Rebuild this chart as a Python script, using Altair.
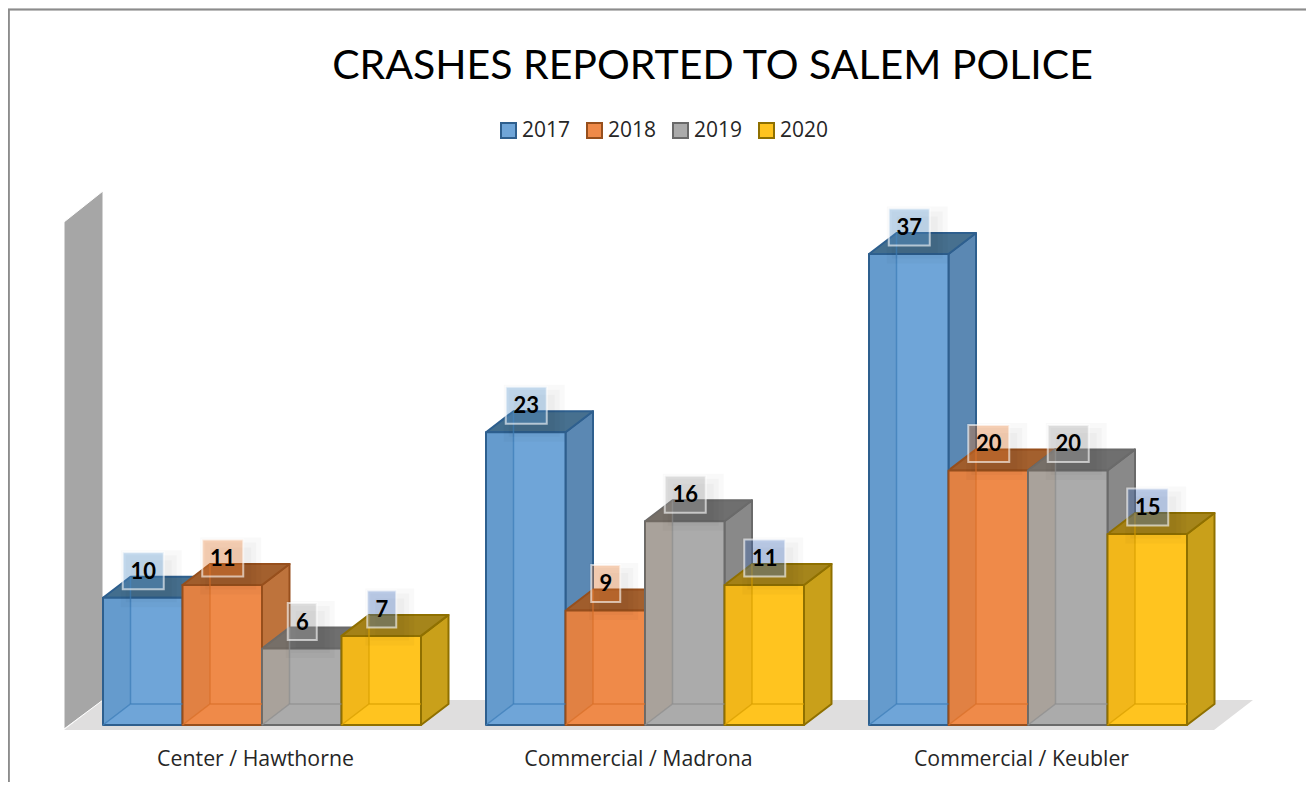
import altair as alt
import pandas as pd

CATEGORIES = ["Center / Hawthorne", "Commercial / Madrona", "Commercial / Keubler"]
YEARS = ["2017", "2018", "2019", "2020"]
VALUES_2017 = [10, 23, 37]
VALUES_2018 = [11, 9, 20]
VALUES_2019 = [6, 16, 20]
VALUES_2020 = [7, 11, 15]
SERIES = [VALUES_2017, VALUES_2018, VALUES_2019, VALUES_2020]

FRONT = ["#6FA5D8", "#EF8A49", "#ABABAB", "#FFC41F"]
EDGE = ["#2E5F8E", "#974F1C", "#6A6A6A", "#8F7000"]
SIDE = ["#5B88B3", "#BE733C", "#898989", "#C9A01A"]
TOP = ["#47708F", "#A3602E", "#6F6F6F", "#A5851B"]
BOX = ["#5B9BD5", "#ED7D31", "#A5A5A5", "#4472C4"]
BAND = ["#2E6090", "#905020", "#A0703F", "#A06800"]
INNER = ["#3F7FBA", "#D9702A", "#8F8F8F", "#D9A000"]

W, H = 1298, 774
PX_X, PX_Y = 79.5, 12.73        # pixels per bar width, pixels per crash
ORIGIN_X, ORIGIN_Y = 103, 725   # page position of the first bar's foot
DX, DY = 27.5 / PX_X, 21 / PX_Y   # depth of the boxes
GROUP_STEP = 383 / PX_X


def sx(px):
    return (px - ORIGIN_X) / PX_X


def sy(px):
    return (ORIGIN_Y - px) / PX_Y


X_DOMAIN = [sx(8), sx(8 + W)]
Y_DOMAIN = [sy(8 + H), sy(8)]
x_scale = alt.Scale(domain=X_DOMAIN, nice=False, zero=False)
y_scale = alt.Scale(domain=Y_DOMAIN, nice=False, zero=False)
X = alt.X("x:Q", scale=x_scale, axis=None)
Y = alt.Y("y:Q", scale=y_scale, axis=None, stack=None)
X2 = alt.X2("x2:Q")
Y2 = alt.Y2("y2:Q")

fronts, sides, tops, bands, inner, labels = [], [], [], [], [], []
bar_id = 0
for g in range(len(CATEGORIES)):
    for s, year in enumerate(YEARS):
        v = SERIES[s][g]
        l = g * GROUP_STEP + s
        r = l + 1
        bid = f"{bar_id:02d}"
        bar_id += 1
        fronts.append(dict(x=l, x2=r, y=0, y2=v, year=year))
        for xx, a, b in [(r, 0, v), (r + DX, DY, v + DY)]:
            sides.append(dict(face=bid, x=xx, y=a, y2=b, fill=SIDE[s], edge=EDGE[s]))
        for xx, a, b in [(l, v, v), (l + DX, v, v + DY), (r, v, v + DY), (r + DX, v + DY, v + DY)]:
            tops.append(dict(face=bid, x=xx, y=a, y2=b, fill=TOP[s], edge=EDGE[s]))
        for xx, a, b in [(l, 0, v), (l + DX, DY, v + DY)]:
            bands.append(dict(face=bid, x=xx, y=a, y2=b, fill=BAND[s]))
        path = [(l, 0), (l + DX, DY), (r, DY)]
        for i, (xx, yy) in enumerate(path):
            inner.append(dict(face=bid + "a", i=i, x=xx, y=yy, edge=INNER[s]))
        for i, (xx, yy) in enumerate([(l + DX, DY), (l + DX, v + DY)]):
            inner.append(dict(face=bid + "b", i=i, x=xx, y=yy, edge=INNER[s]))
        half_w = (20.5 if v >= 10 else 14.5) / PX_X
        half_h = 18.5 / PX_Y
        cx, cy = l + 0.5 + 0.5 / PX_X, v + 27 / PX_Y
        row = dict(x=cx - half_w, x2=cx + half_w, y=cy - half_h, y2=cy + half_h,
                   cx=cx, cy=cy - 1 / PX_Y, text=str(v), box=BOX[s])
        for n, grow in enumerate([10, 5, 0]):
            row[f"sx{n}"] = cx - half_w + (8 - grow) / PX_X
            row[f"sxx{n}"] = cx + half_w + (8 + grow) / PX_X
            row[f"sy{n}"] = cy - half_h - (8 + grow) / PX_Y
            row[f"syy{n}"] = cy + half_h - (8 - grow) / PX_Y
        labels.append(row)

df_fronts, df_sides, df_tops = pd.DataFrame(fronts), pd.DataFrame(sides), pd.DataFrame(tops)
df_bands, df_inner, df_labels = pd.DataFrame(bands), pd.DataFrame(inner), pd.DataFrame(labels)

df_floor = pd.DataFrame(dict(
    x=[sx(64), sx(103), sx(1214), sx(1253)],
    y=[sy(730), sy(730), sy(730), sy(700)],
    y2=[sy(730), sy(700), sy(700), sy(700)],
))
df_wall = pd.DataFrame(dict(
    x=[sx(64), sx(103)],
    y=[sy(729), sy(700)],
    y2=[sy(222), sy(191)],
))
df_cats = pd.DataFrame(dict(
    x=[g * GROUP_STEP + 2 - 6.5 / PX_X for g in range(3)],
    y=[sy(760)] * 3,
    text=CATEGORIES,
))

floor = alt.Chart(df_floor).mark_area(orient="vertical", color="#DFDEDE").encode(x=X, y=Y, y2=Y2)
wall = alt.Chart(df_wall).mark_area(orient="vertical", color="#A6A6A6", stroke="#FFFFFF", strokeWidth=1).encode(x=X, y=Y, y2=Y2)


def faces(df):
    return alt.Chart(df).mark_area(orient="vertical", strokeWidth=2, strokeJoin="round").encode(
        x=X, y=Y, y2=Y2, detail="face:N",
        fill=alt.Fill("fill:N", scale=None),
        stroke=alt.Stroke("edge:N", scale=None),
    )


legend = alt.Legend(
    orient="none", legendX=490, legendY=112, direction="horizontal", columns=4, title=None,
    symbolType="square", symbolSize=225, symbolStrokeWidth=2, labelFont="Open Sans",
    labelFontSize=21, labelColor="#262626", labelOffset=3, columnPadding=12, symbolOpacity=1,
)
bars = alt.Chart(df_fronts).mark_bar(strokeWidth=2, strokeJoin="round", opacity=1).encode(
    x=X, x2=X2, y=Y, y2=Y2,
    color=alt.Color("year:N", scale=alt.Scale(domain=YEARS, range=FRONT), legend=legend),
    stroke=alt.Stroke("year:N", scale=alt.Scale(domain=YEARS, range=EDGE), legend=legend),
)
band_layer = alt.Chart(df_bands).mark_area(orient="vertical", opacity=0.14).encode(
    x=X, y=Y, y2=Y2, detail="face:N", fill=alt.Fill("fill:N", scale=None))
inner_layer = alt.Chart(df_inner).mark_line(strokeWidth=1.5, opacity=0.75).encode(
    x=X, y=Y, detail="face:N", order="i:Q", stroke=alt.Stroke("edge:N", scale=None))


def shadow(n):
    return alt.Chart(df_labels).mark_rect(color="#000000", opacity=0.022).encode(
        x=alt.X(f"sx{n}:Q", scale=x_scale, axis=None), x2=alt.X2(f"sxx{n}:Q"),
        y=alt.Y(f"sy{n}:Q", scale=y_scale, axis=None), y2=alt.Y2(f"syy{n}:Q"))


boxes = alt.Chart(df_labels).mark_rect(fillOpacity=0.35, stroke="#FFFFFF", strokeOpacity=0.6, strokeWidth=2).encode(
    x=X, x2=X2, y=alt.Y("y:Q", scale=y_scale, axis=None), y2=Y2,
    fill=alt.Fill("box:N", scale=None))
texts = alt.Chart(df_labels).mark_text(font="Lato", fontWeight="bold", fontSize=22, color="#000000", baseline="middle").encode(
    x=alt.X("cx:Q", scale=x_scale, axis=None), y=alt.Y("cy:Q", scale=y_scale, axis=None), text="text:N")
cats = alt.Chart(df_cats).mark_text(font="Open Sans", fontSize=21.3, color="#262626", baseline="middle").encode(
    x=X, y=alt.Y("y:Q", scale=y_scale, axis=None), text="text:N")

border_top = alt.Chart(df_cats).mark_rule(color="#8C8C8C", strokeWidth=1.5).encode(
    x=alt.value(0), x2=alt.value(W), y=alt.value(1.5))
border_left = alt.Chart(df_cats).mark_rule(color="#8C8C8C", strokeWidth=1.5).encode(
    x=alt.value(0.75), y=alt.value(1), y2=alt.value(H))

chart = alt.layer(
    border_top, border_left, floor, wall, faces(df_sides), faces(df_tops), bars,
    band_layer, inner_layer, shadow(0), shadow(1), shadow(2), boxes, texts, cats,
).resolve_scale(color="independent", stroke="independent").properties(
    width=W, height=H, padding=0,
    autosize=alt.AutoSizeParams(type="none"),
    background="#FFFFFF",
    title=alt.Title("CRASHES REPORTED TO SALEM POLICE", font="Lato", fontSize=41, fontWeight="normal",
                    color="#000000", anchor="middle", frame="group", dx=55.5, offset=-100, baseline="middle"),
).configure_view(stroke=None)

chart.save("out.html", embed_options={"renderer": "svg", "actions": False})
